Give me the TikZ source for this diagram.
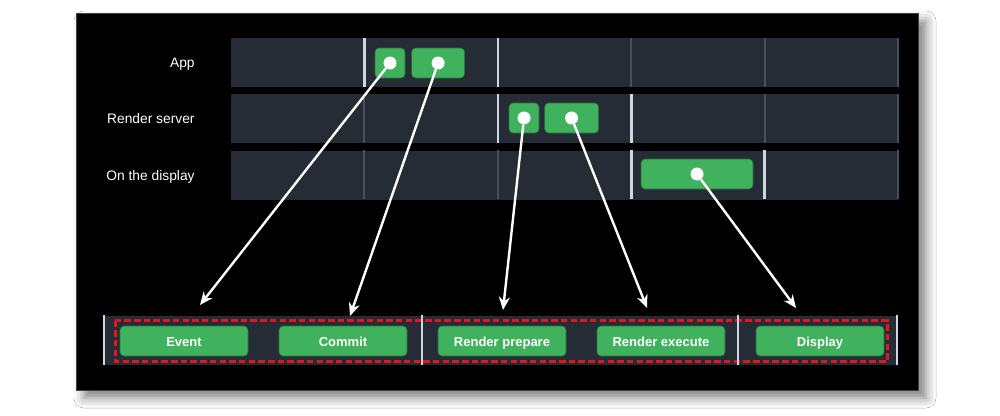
\documentclass[tikz,border=0pt]{standalone}
\usepackage{fontspec}
\setmainfont{Liberation Sans}
\usetikzlibrary{positioning,arrows.meta,shadows.blur}

\definecolor{lanegray}{RGB}{38,44,54}
\definecolor{tickgray}{RGB}{72,80,94}
\definecolor{vsyncgray}{RGB}{205,214,226}
\definecolor{blockgreen}{RGB}{64,178,93}
\definecolor{blockedge}{RGB}{36,110,58}
\definecolor{markred}{RGB}{232,20,28}

\tikzset{
  lane/.style={fill=lanegray, minimum width=667pt, minimum height=49pt, inner sep=0pt},
  lanelabel/.style={text=white, inner sep=0pt, text height=10pt, text depth=0pt,
    font=\fontsize{13.8}{16}\selectfont},
  block/.style={fill=blockgreen, draw=blockedge, line width=0.6pt, rounded corners=4pt,
    minimum height=30pt, inner sep=0pt},
  stage/.style={block, minimum width=128pt, text=white, text height=10pt, text depth=0pt,
    font=\bfseries\fontsize{13}{16}\selectfont},
  dot/.style={circle, fill=white, minimum size=13pt, inner sep=0pt},
  tickline/.style={tickgray, line width=2pt},
  vsync/.style={vsyncgray, line width=2.6pt}
}

\begin{document}
\begin{tikzpicture}[x=1pt, y=-1pt, node distance=7pt, >={Stealth[length=13pt,width=11pt]}]
   \path[fill=white, use as bounding box] (0,0) rectangle (1000,415);
   \path[fill=black, draw=black!75, line width=1pt,
     blur shadow={shadow xshift=8pt, shadow yshift=-8pt, shadow blur radius=10pt, shadow opacity=50}]
     (76,13) rectangle (918,390);

   % timeline rows
   \node[lane] (app)    at (564.5,62.5) {};
   \node[lane] (server) [below=of app]    {};
   \node[lane] (screen) [below=of server] {};

   \node[lanelabel] (app_l)    [left=36pt of app]    {App};
   \node[lanelabel] (server_l) [left=36pt of server] {Render server};
   \node[lanelabel] (screen_l) [left=36pt of screen] {On the display};

   % frame ticks
   \draw[tickline]
    (631.2,38) -- (631.2,87)   (764.6,38) -- (764.6,87)   (898,38) -- (898,87)
    (364.4,94) -- (364.4,143)  (764.6,94) -- (764.6,143)  (898,94) -- (898,143)
    (364.4,150) -- (364.4,199) (497.8,150) -- (497.8,199) (898,150) -- (898,199);
   \draw[vsync]
    (364.4,38) -- (364.4,87)   (497.8,38) -- (497.8,87)
    (497.8,94) -- (497.8,143)  (631.2,94) -- (631.2,143)
    (631.2,150) -- (631.2,199) (764.6,150) -- (764.6,199);

   % work blocks
   \node[block, minimum width=30pt]  (event_0)  at (390,63) {};
   \node[block, minimum width=53pt]  (commit_0) [right=6pt of event_0] {};
   \node[block, minimum width=30pt]  (prep_0)   at (524,118) {};
   \node[block, minimum width=54pt]  (exec_0)   [right=5pt of prep_0] {};
   \node[block, minimum width=112pt] (show_0)   at (697,174) {};

   \node[dot] (event_d)  at (event_0)  {};
   \node[dot] (commit_d) at (commit_0) {};
   \node[dot] (prep_d)   at (prep_0)   {};
   \node[dot] (exec_d)   at (exec_0)   {};
   \node[dot] (show_d)   at (show_0)   {};

   % stage strip
   \node[lane, minimum width=793pt] (strip) at (500.5,340.5) {};
   \draw[markred, line width=3pt, dash pattern=on 6.5pt off 3.2pt] (115,320.5) rectangle (887,361.5);
   \draw[vsync]
    (104,315) -- (104,365) (422,315) -- (422,365)
    (738,315) -- (738,365) (897,315) -- (897,365);

   \node[stage] (event_1)  at (184,341) {Event};
   \node[stage] (commit_1) [right=30.4pt of event_1]  {Commit};
   \node[stage] (prep_1)   [right=30.4pt of commit_1] {Render prepare};
   \node[stage] (exec_1)   [right=30.4pt of prep_1]   {Render execute};
   \node[stage] (show_1)   [right=30.4pt of exec_1]   {Display};

   \coordinate (event_t)  at (200,305);
   \coordinate (commit_t) at (350,316);
   \coordinate (prep_t)   at (503,310);
   \coordinate (exec_t)   at (647,308);
   \coordinate (show_t)   at (796,308);

    \path[->, white, line width=2.4pt]
    (event_d)  edge (event_t)
    (commit_d) edge (commit_t)
    (prep_d)   edge (prep_t)
    (exec_d)   edge (exec_t)
    (show_d)   edge (show_t);
\end{tikzpicture}
\end{document}
